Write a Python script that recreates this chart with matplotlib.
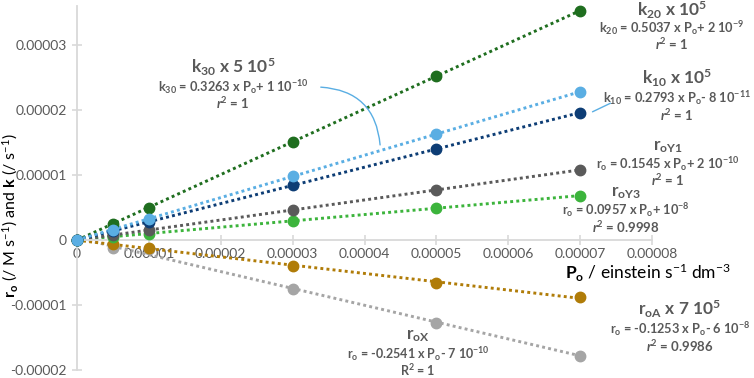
import numpy as np
import matplotlib
matplotlib.use("Agg")
import matplotlib.pyplot as plt
from matplotlib.ticker import FuncFormatter

plt.rcParams['font.family'] = ['Lato', 'DejaVu Sans']
plt.rcParams['mathtext.fontset'] = 'custom'
plt.rcParams['mathtext.rm'] = 'Lato'
plt.rcParams['mathtext.it'] = 'Lato:italic'
plt.rcParams['mathtext.bf'] = 'Lato:bold'
plt.rcParams['mathtext.bfit'] = 'Lato:italic:bold'

# Po values (einstein s-1 dm-3)
po = [0, 0.000005, 0.00001, 0.00003, 0.00005, 0.00007]

# series
k20 = [0, 0.0000025, 0.0000050, 0.0000151, 0.0000252, 0.0000353]
k30 = [0, 0.0000016, 0.0000033, 0.0000098, 0.0000163, 0.0000228]
k10 = [0, 0.0000014, 0.0000028, 0.0000084, 0.0000140, 0.0000196]
roY1 = [0, 0.0000008, 0.0000015, 0.0000046, 0.0000077, 0.0000108]
roY3 = [0, 0.0000005, 0.0000010, 0.0000030, 0.0000049, 0.0000068]
roA = [0, -0.0000006, -0.0000013, -0.0000040, -0.0000066, -0.0000088]
roX = [0, -0.0000013, -0.0000014, -0.0000076, -0.0000127, -0.0000178]

xticks = [0, 0.00001, 0.00002, 0.00003, 0.00004, 0.00005, 0.00006, 0.00007, 0.00008]
yticks = [-0.00002, -0.00001, 0, 0.00001, 0.00002, 0.00003]

series = [
    (roX, '#A5A5A5'),
    (roA, '#B07C08'),
    (roY3, '#3CB43C'),
    (roY1, '#5A5A5A'),
    (k20, '#1F6E1F'),
    (k10, '#0D3D75'),
    (k30, '#5AAEE3'),
]

W, H = 754, 378
fig = plt.figure(figsize=(W / 100, H / 100), dpi=100)
ax = fig.add_axes([77 / W, 8 / H, (652 - 77) / W, (370 - 6) / H])

for vals, col in series:
    slope, icpt = np.polyfit(po, vals, 1)
    xs = np.array([po[0], po[-1]])
    ax.plot(xs, slope * xs + icpt, linestyle=(0, (1, 1.1)), lw=2.1, color=col, zorder=2)
    ax.plot(po, vals, 'o', ms=7.5, color=col, zorder=3, clip_on=False)

ax.set_xlim(0, 0.00008)
ax.set_ylim(-0.00002, 0.000036)
ax.set_xticks(xticks)
ax.set_yticks(yticks)
fmt = FuncFormatter(lambda v, p: '0' if abs(v) < 1e-12 else f'{v:.5f}')
ax.xaxis.set_major_formatter(fmt)
ax.yaxis.set_major_formatter(fmt)

for s in ['top', 'right']:
    ax.spines[s].set_visible(False)
ax.spines['bottom'].set_position(('data', 0))
for s in ['left', 'bottom']:
    ax.spines[s].set_color('#D9D9D9')
    ax.spines[s].set_linewidth(1.3)
ax.tick_params(direction='inout', length=7, width=1.2, color='#D9D9D9',
               labelcolor='#595959', labelsize=10)
ax.tick_params(axis='x', pad=2)
ax.tick_params(axis='y', pad=4)
ax.patch.set_alpha(0)

g = '#595959'


def px(x, y):
    return x / W, 1 - y / H


def block(x, y, lines, dy, sizes=(12.5, 9.2, 9.5)):
    for i, t in enumerate(lines):
        fig.text(*px(x, y + dy[i]), t, ha='center', va='center', color=g,
                 fontsize=sizes[i], fontweight='bold')


r2 = r'$\mathbfit{r}^{\mathbf{2}}$'

block(233, 67, [r'$\mathbf{k_{30}}$ x 5 10$^{\mathbf{5}}$',
                r'k$_{\mathbf{30}}$ = 0.3263 x P$_{\mathbf{o}}$+ 1 10$^{\mathbf{-10}}$',
                r2 + ' = 1'], [0, 20, 36])
block(672, 10, [r'$\mathbf{k_{20}}$ x 10$^{\mathbf{5}}$',
                r'k$_{\mathbf{20}}$ = 0.5037 x P$_{\mathbf{o}}$+ 2 10$^{\mathbf{-9}}$',
                r2 + ' = 1'], [0, 18, 34])
block(677, 78, [r'$\mathbf{k_{10}}$ x 10$^{\mathbf{5}}$',
                r'k$_{\mathbf{10}}$ = 0.2793 x P$_{\mathbf{o}}$- 8 10$^{\mathbf{-11}}$',
                r2 + ' = 1'], [0, 20, 37])
block(668, 147, [r'$\mathbf{r_{oY1}}$',
                 r'r$_{\mathbf{o}}$ = 0.1545 x P$_{\mathbf{o}}$+ 2 10$^{\mathbf{-10}}$',
                 r2 + ' = 1'], [0, 17, 33])
block(626, 193, [r'$\mathbf{r_{oY3}}$',
                 r'r$_{\mathbf{o}}$ = 0.0957 x P$_{\mathbf{o}}$+ 10$^{\mathbf{-8}}$',
                 r2 + ' = 0.9998'], [0, 17, 34])
block(680, 309, [r'$\mathbf{r_{oA}}$ x 7 10$^{\mathbf{5}}$',
                 r'r$_{\mathbf{o}}$ = -0.1253 x P$_{\mathbf{o}}$- 6 10$^{\mathbf{-8}}$',
                 r2 + ' = 0.9986'], [0, 20, 37])
block(418, 336, [r'$\mathbf{r_{oX}}$',
                 r'r$_{\mathbf{o}}$ = -0.2541 x P$_{\mathbf{o}}$- 7 10$^{\mathbf{-10}}$',
                 r'R$^{\mathbf{2}}$ = 1'], [0, 18, 34], sizes=(12.5, 9, 9))

# leader lines
ax.annotate('', xy=(0.0000422, 0.0000142), xycoords='data',
            xytext=px(318, 87), textcoords='figure fraction',
            arrowprops=dict(arrowstyle='-', color='#5AAEE3', lw=1,
                            connectionstyle='arc3,rad=-0.45'))
ax.annotate('', xy=px(613, 102), xycoords='figure fraction',
            xytext=px(590, 113), textcoords='figure fraction',
            arrowprops=dict(arrowstyle='-', color='#5AAEE3', lw=1))

fig.text(*px(565, 273), r'$\mathbf{P_o}$ / einstein s$^{-1}$ dm$^{-3}$',
         ha='left', va='center', fontsize=12.5, color='black')
fig.text(*px(10, 216), r'$\mathbf{r_o}$ (/ M s$^{-1}$) and $\mathbf{k}$ (/ s$^{-1}$)',
         ha='center', va='center', rotation=90, fontsize=11.5, color='black')

fig.savefig('out.png', dpi=100)
